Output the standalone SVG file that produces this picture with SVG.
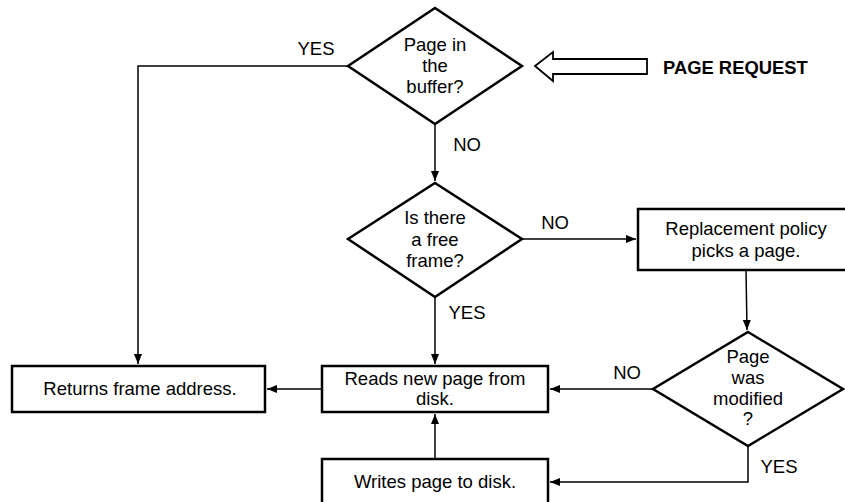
<svg xmlns="http://www.w3.org/2000/svg" width="845" height="502" viewBox="0 0 845 502">
<defs>
<marker id="ah" markerWidth="10" markerHeight="8" refX="10" refY="4" orient="auto" markerUnits="userSpaceOnUse">
<path d="M0,0 L10,4 L0,8 Z" fill="#000"/>
</marker>
<style>
.shape{fill:#fff;stroke:#000;stroke-width:2.5}
.conn{fill:none;stroke:#000;stroke-width:1.5}
.t{font-family:"Liberation Sans",Arial,sans-serif;font-size:18.5px;fill:#000;text-anchor:middle}
.lbl{font-family:"Liberation Sans",Arial,sans-serif;font-size:18.5px;fill:#000;text-anchor:middle}
</style>
</defs>
<rect width="845" height="502" fill="#fff"/>
<g id="connectors">
<path class="conn" d="M348,66 H138 V364" marker-end="url(#ah)"/>
<path class="conn" d="M435,124 V181" marker-end="url(#ah)"/>
<path class="conn" d="M522,239 H636" marker-end="url(#ah)"/>
<path class="conn" d="M435,297 V364" marker-end="url(#ah)"/>
<path class="conn" d="M746,270 L747,330" marker-end="url(#ah)"/>
<path class="conn" d="M653,389 H550" marker-end="url(#ah)"/>
<path class="conn" d="M322,389 H267" marker-end="url(#ah)"/>
<path class="conn" d="M435,459 V414" marker-end="url(#ah)"/>
<path class="conn" d="M748,446 V482 H550" marker-end="url(#ah)"/>
<text class="lbl" x="316" y="55">YES</text>
<text class="lbl" x="467" y="151">NO</text>
<text class="lbl" x="555" y="229">NO</text>
<text class="lbl" x="467" y="319">YES</text>
<text class="lbl" x="627" y="379">NO</text>
<text class="lbl" x="779" y="473">YES</text>
</g>
<g id="page-request">
<path d="M535,66 L553,52 L553,59 L647,59 L647,74 L553,74 L553,81 Z" fill="#fff" stroke="#000" stroke-width="1.8"/>
<text x="663" y="74" font-family="Liberation Sans,Arial,sans-serif" font-size="18.4px" font-weight="bold">PAGE REQUEST</text>
</g>
<g id="d-buffer">
<path class="shape" d="M435,8 L522,66 L435,124 L348,66 Z"/>
<text class="t" x="435" y="51">Page in</text>
<text class="t" x="435" y="72">the</text>
<text class="t" x="435" y="93">buffer?</text>
</g>
<g id="d-free">
<path class="shape" d="M435,183 L522,239 L435,297 L348,239 Z"/>
<text class="t" x="435" y="224">Is there</text>
<text class="t" x="435" y="246">a free</text>
<text class="t" x="435" y="267">frame?</text>
</g>
<g id="b-replace">
<rect class="shape" x="638" y="209" width="220" height="61"/>
<text class="t" x="746" y="235">Replacement policy</text>
<text class="t" x="746" y="257">picks a page.</text>
</g>
<g id="d-modified">
<path class="shape" d="M748,332 L843,389 L748,446 L653,389 Z"/>
<text class="t" x="748" y="363">Page</text>
<text class="t" x="748" y="384">was</text>
<text class="t" x="748" y="405">modified</text>
<text class="t" x="748" y="425">?</text>
</g>
<g id="b-reads">
<rect class="shape" x="322" y="366" width="226" height="46"/>
<text class="t" x="435" y="385">Reads new page from</text>
<text class="t" x="435" y="405">disk.</text>
</g>
<g id="b-writes">
<rect class="shape" x="322" y="459" width="226" height="60"/>
<text class="t" x="435" y="488">Writes page to disk.</text>
</g>
<g id="b-returns">
<rect class="shape" x="12" y="366" width="253" height="46"/>
<text class="t" x="140" y="395">Returns frame address.</text>
</g>
</svg>
